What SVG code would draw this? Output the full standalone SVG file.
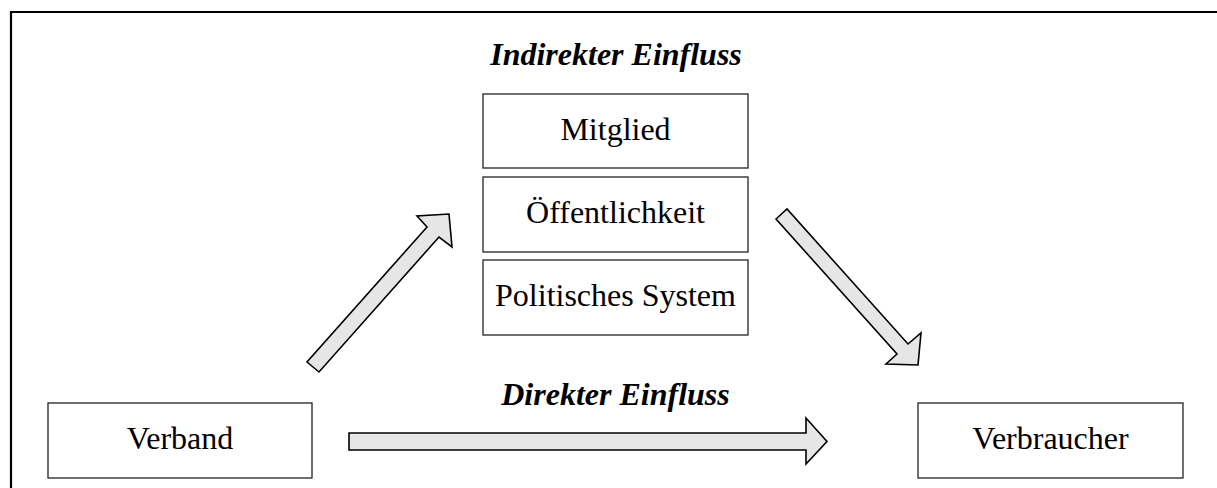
<svg xmlns="http://www.w3.org/2000/svg" width="1217" height="488" viewBox="0 0 1217 488">
  <style>
    .box { fill: #ffffff; stroke: #222222; stroke-width: 1.3; }
    .label { font-family: "Liberation Serif", "Times New Roman", serif; font-size: 32px; fill: #000000; text-anchor: middle; }
    .title { font-family: "Liberation Serif", "Times New Roman", serif; font-size: 32px; font-weight: bold; font-style: italic; fill: #000000; text-anchor: middle; }
    .arrow { fill: #e6e6e6; stroke: #000000; stroke-width: 1.6; stroke-linejoin: miter; }
    .frame { fill: none; stroke: #000000; stroke-width: 2.2; }
  </style>

  <rect width="1217" height="488" fill="#ffffff"/>

  <!-- outer frame (top and left edges visible) -->
  <polyline class="frame" points="11,488 11,12 1217,12"/>

  <!-- headings -->
  <text class="title" x="616" y="65">Indirekter Einfluss</text>
  <text class="title" x="615.5" y="405">Direkter Einfluss</text>

  <g id="mitglied">
    <rect class="box" x="483" y="94" width="265" height="74"/>
    <text class="label" x="615.5" y="140">Mitglied</text>
  </g>
  <g id="oeffentlichkeit">
    <rect class="box" x="483" y="177" width="265" height="75"/>
    <text class="label" x="615.5" y="223">Öffentlichkeit</text>
  </g>
  <g id="politisches-system">
    <rect class="box" x="483" y="260" width="265" height="75"/>
    <text class="label" x="615.5" y="306">Politisches System</text>
  </g>
  <g id="verband">
    <rect class="box" x="48" y="403" width="264" height="75"/>
    <text class="label" x="180" y="449">Verband</text>
  </g>
  <g id="verbraucher">
    <rect class="box" x="918" y="403" width="265" height="75"/>
    <text class="label" x="1050.5" y="449">Verbraucher</text>
  </g>

  <!-- block arrows -->
  <g id="connectors">
    <polygon class="arrow" points="307,362 319,372 439,237 452,247 449,214 417,216 427,227"/>
    <polygon class="arrow" points="776,219 787,209 908,344 921,333 918,365 886,364 897,354"/>
    <polygon class="arrow" points="349,433 806,433 806,418 827,441.5 806,464 806,450 349,450"/>
  </g>
</svg>
